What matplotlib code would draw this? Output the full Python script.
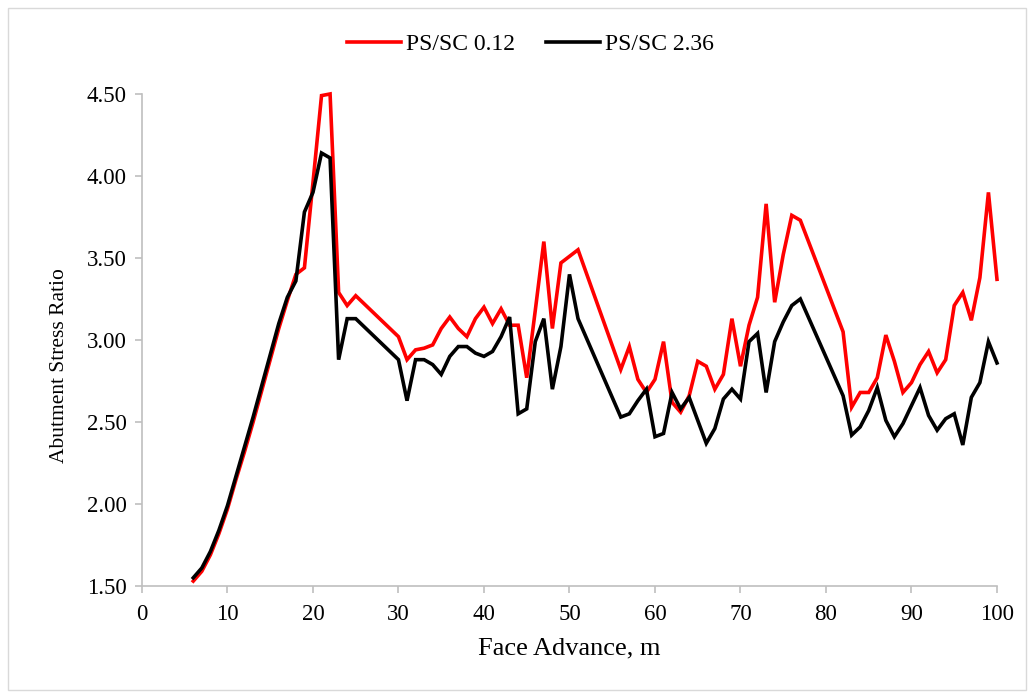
import numpy as np
import matplotlib
matplotlib.use("Agg")
import matplotlib.pyplot as plt
from matplotlib.patches import Rectangle

# Face advance positions (m) and abutment stress ratio for each PS/SC case
face_advance = (list(range(6, 26)) + list(range(30, 52))
                + list(range(56, 78)) + list(range(82, 101)))

ratio_ps_sc_012 = [
    1.53, 1.59, 1.69, 1.82, 1.97, 2.15, 2.32, 2.50, 2.69, 2.88,
    3.07, 3.24, 3.40, 3.44, 3.96, 4.49, 4.50, 3.29, 3.21, 3.27,
    3.02, 2.88, 2.94, 2.95, 2.97, 3.07, 3.14, 3.07, 3.02, 3.13, 3.20,
    3.10, 3.19, 3.09, 3.09, 2.77, 3.18, 3.60, 3.07, 3.47, 3.51, 3.55,
    2.82, 2.96, 2.76, 2.68, 2.76, 2.99, 2.62, 2.56, 2.66, 2.87, 2.84,
    2.70, 2.79, 3.13, 2.84, 3.09, 3.26, 3.83, 3.23, 3.52, 3.76, 3.73,
    3.05, 2.59, 2.68, 2.68, 2.77, 3.03, 2.87, 2.68, 2.74, 2.85,
    2.93, 2.80, 2.88, 3.21, 3.29, 3.12, 3.38, 3.90, 3.37,
]

ratio_ps_sc_236 = [
    1.55, 1.61, 1.71, 1.84, 1.99, 2.17, 2.35, 2.53, 2.72, 2.91,
    3.10, 3.26, 3.36, 3.78, 3.90, 4.14, 4.11, 2.88, 3.13, 3.13,
    2.88, 2.63, 2.88, 2.88, 2.85, 2.79, 2.90, 2.96, 2.96, 2.92, 2.90,
    2.93, 3.02, 3.14, 2.55, 2.58, 2.99, 3.13, 2.70, 2.96, 3.40, 3.13,
    2.53, 2.55, 2.63, 2.70, 2.41, 2.43, 2.68, 2.58, 2.65, 2.51, 2.37,
    2.46, 2.64, 2.70, 2.64, 2.99, 3.04, 2.68, 2.99, 3.11, 3.21, 3.25,
    2.66, 2.42, 2.47, 2.57, 2.71, 2.51, 2.41, 2.49, 2.60, 2.71,
    2.54, 2.45, 2.52, 2.55, 2.36, 2.65, 2.74, 2.99, 2.86,
]

series_labels = ["PS/SC 0.12", "PS/SC 2.36"]
series_colors = ["#FF0000", "#000000"]
x_ticks = np.arange(0, 101, 10)
y_ticks = np.arange(1.5, 4.51, 0.5)

plt.rcParams["font.family"] = ["Liberation Serif", "DejaVu Serif"]
axis_gray = "#BFBFBF"

fig = plt.figure(figsize=(10.34, 6.94), dpi=100)
ax = fig.add_axes([0.1373, 0.1556, 0.8269, 0.709])

# light chart-area frame
fig.patches.append(Rectangle((0.008, 0.006), 0.984, 0.982, transform=fig.transFigure,
                             fill=False, edgecolor="#D9D9D9", linewidth=1.0))

for y, lbl, col in zip([ratio_ps_sc_012, ratio_ps_sc_236], series_labels, series_colors):
    ax.plot(face_advance, y, color=col, linewidth=2.6, label=lbl,
            solid_joinstyle="miter", clip_on=False)

ax.set_xlim(0, 100)
ax.set_ylim(1.5, 4.5)
ax.set_xticks(x_ticks)
ax.set_yticks(y_ticks)
ax.set_yticklabels([f"{v:.2f}" for v in y_ticks])

for side in ["top", "right"]:
    ax.spines[side].set_visible(False)
for side in ["left", "bottom"]:
    ax.spines[side].set_color(axis_gray)
    ax.spines[side].set_linewidth(1.2)

ax.tick_params(axis="both", direction="out", length=5, width=1.2, color=axis_gray,
               labelsize=16.5, labelcolor="black")
ax.tick_params(axis="x", pad=8)
ax.tick_params(axis="y", pad=6)

ax.set_xlabel("Face Advance, m", fontsize=19, labelpad=9)
ax.set_ylabel("Abutment Stress Ratio", fontsize=15.5)
ax.yaxis.set_label_coords(-0.085, 0.449)

fig.legend(loc="center", bbox_to_anchor=(0.513, 0.936), ncol=2, frameon=False,
           fontsize=17, handlelength=2.3, handletextpad=0.2, columnspacing=1.3)

fig.savefig("out.png", dpi=100)
